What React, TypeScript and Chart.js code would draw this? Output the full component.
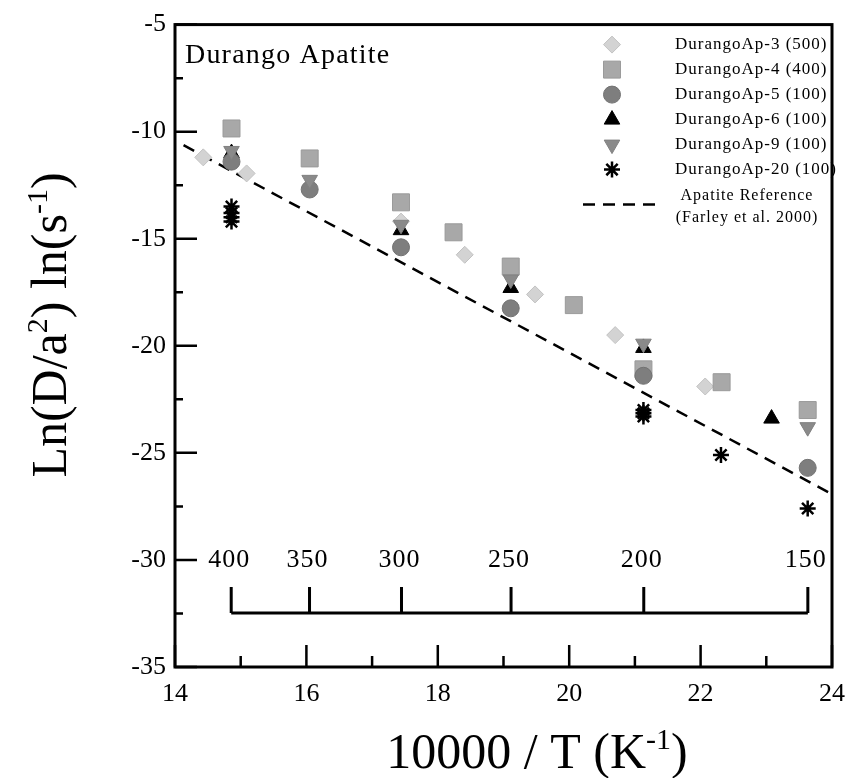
import React, { useEffect, useRef } from 'react';
import { Chart, registerables } from 'chart.js';
import { drawPoint } from 'chart.js/helpers';

Chart.register(...registerables);

const SERIF = '"Liberation Serif", "Times New Roman", serif';

// DurangoAp-3 (500)
const ap3X = [14.43, 15.09, 17.44, 18.41, 19.48, 20.7, 22.07];
const ap3Y = [-11.2, -11.95, -14.2, -15.75, -17.6, -19.5, -21.9];
// DurangoAp-4 (400)
const ap4X = [14.86, 16.05, 17.44, 18.24, 19.11, 20.07, 21.13, 22.32, 23.63];
const ap4Y = [-9.85, -11.25, -13.3, -14.7, -16.3, -18.1, -21.1, -21.7, -23.0];
// DurangoAp-5 (100)
const ap5X = [14.86, 16.05, 17.44, 19.11, 21.13, 23.63];
const ap5Y = [-11.4, -12.7, -15.4, -18.25, -21.4, -25.7];
// DurangoAp-6 (100)
const ap6X = [14.86, 17.44, 19.11, 21.13, 23.08];
const ap6Y = [-11.0, -14.6, -17.3, -20.1, -23.4];
// DurangoAp-9 (100)
const ap9X = [14.86, 16.05, 17.44, 19.11, 21.13, 23.63];
const ap9Y = [-10.9, -12.25, -14.35, -16.9, -19.9, -23.8];
// DurangoAp-20 (100)
const ap20X = [14.86, 14.86, 14.86, 14.86, 21.13, 21.13, 21.13, 22.31, 23.63];
const ap20Y = [-13.5, -13.8, -14.0, -14.2, -23.0, -23.15, -23.3, -25.1, -27.6];
// Apatite Reference (Farley et al. 2000)
const refX = [14.13, 24.0];
const refY = [-10.63, -26.93];

const seriesLabels = [
  'DurangoAp-3 (500)',
  'DurangoAp-4 (400)',
  'DurangoAp-5 (100)',
  'DurangoAp-6 (100)',
  'DurangoAp-9 (100)',
  'DurangoAp-20 (100)',
];
const refLabelLines = ['Apatite Reference', '(Farley et al. 2000)'];
const plotTitle = 'Durango Apatite';

const tempC = [400, 350, 300, 250, 200, 150];
const xMajor = [14, 16, 18, 20, 22, 24];
const xMinor = [15, 17, 19, 21, 23];
const yMajor = [-5, -10, -15, -20, -25, -30, -35];
const yMinor = [-7.5, -12.5, -17.5, -22.5, -27.5, -32.5];

const pts = (xs: number[], ys: number[]) => xs.map((x, i) => ({ x, y: ys[i] }));

const styles = [
  { pointStyle: 'rectRot', radius: 8.5, rotation: 0, bg: '#d3d3d3', border: '#c2c2c2', bw: 1 },
  { pointStyle: 'rect', radius: 12, rotation: 0, bg: '#a8a8a8', border: '#9a9a9a', bw: 1 },
  { pointStyle: 'circle', radius: 8.5, rotation: 0, bg: '#7e7e7e', border: '#727272', bw: 1 },
  { pointStyle: 'triangle', radius: 9, rotation: 0, bg: '#000000', border: '#000000', bw: 1 },
  { pointStyle: 'triangle', radius: 9, rotation: 180, bg: '#8a8a8a', border: '#808080', bw: 1 },
  { pointStyle: 'star', radius: 8, rotation: 0, bg: '#000000', border: '#000000', bw: 2.5 },
];
const drawOrder = [5, 4, 2, 3, 1, 0];

function drawRich(ctx: CanvasRenderingContext2D, parts: [string, boolean][], size: number, x: number, y: number) {
  const big = `${size}px ${SERIF}`;
  const small = `${Math.round(size * 0.6)}px ${SERIF}`;
  let total = 0;
  for (const [t, sup] of parts) {
    ctx.font = sup ? small : big;
    total += ctx.measureText(t).width;
  }
  let cx = x - total / 2;
  ctx.textAlign = 'left';
  ctx.textBaseline = 'alphabetic';
  for (const [t, sup] of parts) {
    ctx.font = sup ? small : big;
    ctx.fillText(t, cx, sup ? y - size * 0.38 : y);
    cx += ctx.measureText(t).width;
  }
}

const decorPlugin = {
  id: 'decor',
  afterDatasetsDraw(chart: any) {
    const ctx: CanvasRenderingContext2D = chart.ctx;
    const { left, right, top, bottom } = chart.chartArea;
    const xs = chart.scales.x;
    const ys = chart.scales.y;
    ctx.save();
    ctx.strokeStyle = '#000';
    ctx.fillStyle = '#000';
    ctx.lineCap = 'butt';

    // frame
    ctx.lineWidth = 3;
    ctx.strokeRect(left, top, right - left, bottom - top);

    // inward ticks
    ctx.lineWidth = 2.5;
    ctx.beginPath();
    for (const v of xMajor) {
      const px = xs.getPixelForValue(v);
      ctx.moveTo(px, bottom);
      ctx.lineTo(px, bottom - 22);
    }
    for (const v of xMinor) {
      const px = xs.getPixelForValue(v);
      ctx.moveTo(px, bottom);
      ctx.lineTo(px, bottom - 11);
    }
    for (const v of yMajor) {
      const py = ys.getPixelForValue(v);
      ctx.moveTo(left, py);
      ctx.lineTo(left + 22, py);
    }
    for (const v of yMinor) {
      const py = ys.getPixelForValue(v);
      ctx.moveTo(left, py);
      ctx.lineTo(left + 8, py);
    }
    ctx.stroke();

    // temperature (°C) scale inside plot
    const baseY = bottom - 54;
    const tickTop = bottom - 80;
    const labY = bottom - 107;
    const tPx = tempC.map((t) => xs.getPixelForValue(10000 / (t + 273.15)));
    ctx.lineWidth = 3;
    ctx.beginPath();
    ctx.moveTo(Math.min(...tPx), baseY);
    ctx.lineTo(Math.max(...tPx), baseY);
    for (const px of tPx) {
      ctx.moveTo(px, baseY);
      ctx.lineTo(px, tickTop);
    }
    ctx.stroke();
    ctx.font = `26px ${SERIF}`;
    (ctx as any).letterSpacing = '1px';
    ctx.textAlign = 'center';
    ctx.textBaseline = 'middle';
    tempC.forEach((t, i) => ctx.fillText(String(t), tPx[i] - 2, labY));

    // plot title
    ctx.font = `28px ${SERIF}`;
    (ctx as any).letterSpacing = '1.2px';
    ctx.textAlign = 'left';
    ctx.textBaseline = 'middle';
    ctx.fillText(plotTitle, left + 10, top + 31);

    // legend
    ctx.font = `17px ${SERIF}`;
    (ctx as any).letterSpacing = '1px';
    const markX = right - 220;
    const textX = right - 157;
    const rowY0 = top + 20;
    const rowH = 25;
    seriesLabels.forEach((lab, i) => {
      const s = styles[i];
      const y = rowY0 + i * rowH;
      ctx.fillStyle = s.bg;
      ctx.strokeStyle = s.border;
      ctx.lineWidth = s.bw;
      drawPoint(ctx, { pointStyle: s.pointStyle as any, radius: s.radius, rotation: s.rotation, borderWidth: s.bw }, markX, y);
      ctx.fillStyle = '#000';
      ctx.textAlign = 'left';
      ctx.textBaseline = 'middle';
      ctx.fillText(lab, textX, y);
    });
    const lineY = top + 180;
    ctx.strokeStyle = '#000';
    ctx.lineWidth = 2.5;
    ctx.setLineDash([12, 8]);
    ctx.beginPath();
    ctx.moveTo(right - 249, lineY);
    ctx.lineTo(right - 174, lineY);
    ctx.stroke();
    ctx.setLineDash([]);
    ctx.textAlign = 'center';
    ctx.font = `16px ${SERIF}`;
    ctx.fillText(refLabelLines[0], right - 85, lineY - 9);
    ctx.fillText(refLabelLines[1], right - 85, lineY + 13);
    (ctx as any).letterSpacing = '0px';

    // axis titles
    drawRich(ctx, [['10000 / T (K', false], ['-1', true], [')', false]], 50, 537, 768);
    ctx.save();
    ctx.translate(66, 325);
    ctx.rotate(-Math.PI / 2);
    drawRich(ctx, [['Ln(D/a', false], ['2', true], [') ln(s', false], ['-1', true], [')', false]], 50, 0, 0);
    ctx.restore();

    ctx.restore();
  },
};

export default function App() {
  const ref = useRef<HTMLCanvasElement | null>(null);
  useEffect(() => {
    if (!ref.current) return;
    const data = [pts(ap3X, ap3Y), pts(ap4X, ap4Y), pts(ap5X, ap5Y), pts(ap6X, ap6Y), pts(ap9X, ap9Y), pts(ap20X, ap20Y)];
    const datasets: any[] = data.map((d, i) => {
      const s = styles[i];
      return {
        label: seriesLabels[i],
        data: d,
        pointStyle: s.pointStyle,
        pointRadius: s.radius,
        pointRotation: s.rotation,
        backgroundColor: s.bg,
        borderColor: s.border,
        pointBorderWidth: s.bw,
        showLine: false,
        order: drawOrder[i],
      };
    });
    datasets.push({
      label: refLabelLines.join(' '),
      data: pts(refX, refY),
      showLine: true,
      pointRadius: 0,
      borderColor: '#000',
      borderWidth: 2.5,
      borderDash: [12, 8],
      order: 10,
    });
    const chart = new Chart(ref.current, {
      type: 'scatter',
      data: { datasets },
      options: {
        animation: false,
        responsive: false,
        devicePixelRatio: 1,
        layout: { padding: { top: 22, right: 0, left: 0, bottom: 0 } },
        plugins: { legend: { display: false }, tooltip: { enabled: false }, title: { display: false } },
        scales: {
          x: {
            type: 'linear',
            min: 14,
            max: 24,
            grid: { display: false, drawTicks: false },
            border: { display: false },
            ticks: { stepSize: 2, padding: 12, color: '#000', font: { family: SERIF, size: 26 } },
            afterFit: (s: any) => { s.height = 111; s.paddingRight = 13; },
          },
          y: {
            type: 'linear',
            min: -35,
            max: -5,
            grid: { display: false, drawTicks: false },
            border: { display: false },
            ticks: { stepSize: 5, padding: 9, color: '#000', font: { family: SERIF, size: 26 } },
            afterFit: (s: any) => { s.width = 175; },
          },
        },
      },
      plugins: [decorPlugin],
    });
    return () => chart.destroy();
  }, []);
  return (
    <div style={{ position: 'absolute', left: 0, top: 0, width: 845, height: 778, background: '#fff' }}>
      <canvas ref={ref} width={845} height={778} />
    </div>
  );
}
